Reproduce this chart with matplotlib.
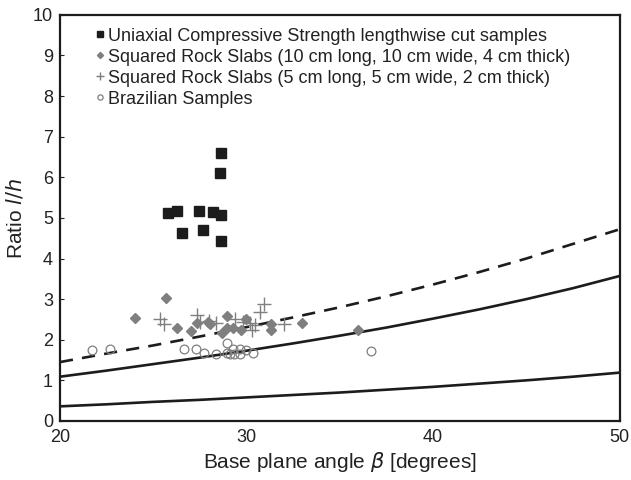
import matplotlib
matplotlib.use("Agg")
import matplotlib.pyplot as plt

plt.rcParams["font.family"] = ["Liberation Sans", "DejaVu Sans"]

# ── Data ───────────────────────────────────────────────────────────────────────
ucs_beta = [25.8, 26.3, 26.55, 27.45, 27.65, 28.2, 28.65, 28.65, 28.6, 28.65]
ucs_ratio = [5.11, 5.18, 4.62, 5.17, 4.70, 5.15, 5.07, 4.42, 6.11, 6.59]

slab10_beta = [24.0, 25.7, 26.3, 27.0, 27.35, 27.95, 28.05, 28.7, 28.95, 28.95,
               29.3, 29.7, 29.95, 31.3, 31.3, 33.0, 36.0]
slab10_ratio = [2.54, 3.02, 2.30, 2.21, 2.42, 2.44, 2.38, 2.17, 2.58, 2.28,
                2.28, 2.23, 2.52, 2.40, 2.23, 2.42, 2.23]

slab5_beta = [25.35, 25.6, 27.35, 27.5, 28.0, 28.35, 29.4, 29.8, 30.2, 30.3,
              30.45, 30.7, 30.95, 32.0]
slab5_ratio = [2.52, 2.38, 2.60, 2.44, 2.46, 2.42, 2.52, 2.44, 2.42, 2.23,
               2.36, 2.69, 2.89, 2.40]

braz_beta = [21.7, 22.7, 26.65, 27.3, 27.7, 28.35, 28.95, 28.95, 29.1, 29.3,
             29.35, 29.65, 29.65, 29.95, 30.35, 36.65]
braz_ratio = [1.74, 1.76, 1.78, 1.76, 1.68, 1.64, 1.91, 1.68, 1.64, 1.78,
              1.64, 1.78, 1.66, 1.74, 1.68, 1.73]

curve_beta = [20, 22.5, 25, 27.5, 30, 32.5, 35, 37.5, 40, 42.5, 45, 47.5, 50]
curve_low = [0.36, 0.41, 0.47, 0.52, 0.58, 0.64, 0.70, 0.77, 0.84, 0.92, 1.00,
             1.09, 1.19]
curve_mid = [1.09, 1.24, 1.40, 1.56, 1.73, 1.91, 2.10, 2.30, 2.52, 2.75, 3.00,
             3.27, 3.57]
curve_dash = [1.45, 1.66, 1.86, 2.08, 2.31, 2.55, 2.80, 3.07, 3.36, 3.67, 4.00,
              4.36, 4.72]

x_ticks = [20, 30, 40, 50]
y_ticks = list(range(0, 11))

# ── Figure ─────────────────────────────────────────────────────────────────────
fig = plt.figure(figsize=(6.31, 4.80), dpi=100)
ax = fig.add_axes([0.095, 0.123, 0.887, 0.846])

_C_DARK = "#1c1c1c"
_C_GREY = "#7f7f7f"
_C_TXT = "#222222"

ax.plot(curve_beta, curve_dash, color=_C_DARK, lw=1.9, ls=(0, (5, 3.5)), zorder=2)
ax.plot(curve_beta, curve_mid, color=_C_DARK, lw=1.9, zorder=2)
ax.plot(curve_beta, curve_low, color=_C_DARK, lw=1.9, zorder=2)

ax.plot(ucs_beta, ucs_ratio, ls="none", marker="s", ms=6.5, color=_C_DARK,
        label="Uniaxial Compressive Strength lengthwise cut samples", zorder=4)
ax.plot(slab10_beta, slab10_ratio, ls="none", marker="D", ms=5.2, color=_C_GREY,
        label="Squared Rock Slabs (10 cm long, 10 cm wide, 4 cm thick)", zorder=4)
ax.plot(slab5_beta, slab5_ratio, ls="none", marker="+", ms=10, mew=1.0,
        color=_C_GREY,
        label="Squared Rock Slabs (5 cm long, 5 cm wide, 2 cm thick)", zorder=4)
ax.plot(braz_beta, braz_ratio, ls="none", marker="o", ms=6.3, mfc="none",
        mec=_C_GREY, mew=0.9, label="Brazilian Samples", zorder=4)

ax.set_xlim(20, 50)
ax.set_ylim(0, 10)
ax.set_xticks(x_ticks)
ax.set_yticks(y_ticks)
ax.tick_params(axis="both", direction="in", length=3, labelsize=13,
               colors=_C_TXT, pad=5)
ax.tick_params(axis="x", length=0, pad=6)
for sp in ax.spines.values():
    sp.set_linewidth(1.6)
    sp.set_color(_C_DARK)

ax.set_xlabel(r"Base plane angle $\it{\beta}$ [degrees]", fontsize=15,
              color=_C_TXT, labelpad=3)
ax.set_ylabel(r"Ratio $\it{l/h}$", fontsize=15, color=_C_TXT, labelpad=5)

ax.legend(loc="upper left", bbox_to_anchor=(0.045, 0.995), frameon=False,
          fontsize=13, markerscale=0.6, handlelength=0.5, handletextpad=0.15,
          labelspacing=0.22, borderaxespad=0.2, labelcolor=_C_TXT)

fig.savefig("out.png", dpi=100)
plt.close(fig)
